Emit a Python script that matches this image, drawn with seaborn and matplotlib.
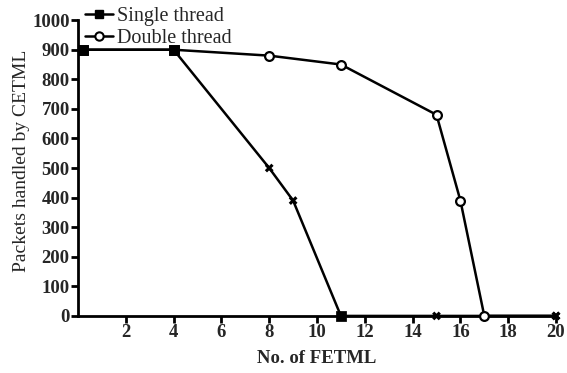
import matplotlib
matplotlib.use("Agg")
import matplotlib.pyplot as plt
from matplotlib.lines import Line2D
import seaborn as sns
import pandas as pd
import numpy as np

sns.set_theme(style="ticks")
plt.rcParams['font.family'] = ['Liberation Serif', 'DejaVu Serif']
plt.rcParams['font.weight'] = 'bold'

single_x = [0.2, 4, 8, 9, 11, 15, 20]
single_y = [900, 900, 500, 390, 0, 0, 0]
single_mk = ['s', 's', 'x', 'x', 's', 'x', 'x']

double_x = [0.2, 4, 8, 11, 15, 16, 17, 20]
double_y = [900, 900, 880, 850, 680, 390, 0, 0]
double_mk = ['s', 's', 'o', 'o', 'o', 'o', 'o', 'x']

x_ticks = [2, 4, 6, 8, 10, 12, 14, 16, 18, 20]
y_ticks = list(range(0, 1001, 100))

fig = plt.figure(figsize=(5.67, 3.73), dpi=100)
ax = fig.add_axes([0.1376, 0.153, 0.843, 0.793])

sd = pd.DataFrame({"x": single_x, "y": single_y, "m": single_mk})
dd = pd.DataFrame({"x": double_x, "y": double_y, "m": double_mk})

sns.lineplot(data=dd, x="x", y="y", color="black", lw=1.8, ax=ax, clip_on=False, zorder=3)
sns.lineplot(data=sd, x="x", y="y", color="black", lw=1.8, ax=ax, clip_on=False, zorder=3)

for df in (sd, dd):
    sq = df[df.m == 's']
    ci = df[df.m == 'o']
    xx = df[df.m == 'x']
    if len(sq):
        sns.scatterplot(data=sq, x="x", y="y", marker='s', s=45, color='black',
                        edgecolor='black', ax=ax, clip_on=False, zorder=5)
    if len(ci):
        sns.scatterplot(data=ci, x="x", y="y", marker='o', s=40, color='white',
                        edgecolor='black', linewidth=1.6, ax=ax, clip_on=False, zorder=5)
    if len(xx):
        sns.scatterplot(data=xx, x="x", y="y", marker='X', s=40, color='black',
                        edgecolor='none', linewidth=0, ax=ax, clip_on=False, zorder=5)

ax.set_xlim(0, 20)
ax.set_ylim(0, 1000)
ax.set_xticks(x_ticks)
ax.set_yticks(y_ticks)
ax.set_xticklabels([str(t) for t in x_ticks], fontsize=13.5, fontweight='bold')
ax.set_yticklabels([str(t) for t in y_ticks], fontsize=13.5, fontweight='bold')
ax.tick_params(axis='both', direction='out', length=5, width=2, color='black', pad=1)
for s in ['top', 'right']:
    ax.spines[s].set_visible(False)
for s in ['left', 'bottom']:
    ax.spines[s].set_linewidth(2)
    ax.spines[s].set_color('black')

ax.set_xlabel("No. of FETML", fontsize=13.5, fontweight='bold', labelpad=6)
ax.set_ylabel("Packets handled by CETML", fontsize=14, fontweight='medium', labelpad=1)
ax.yaxis.set_label_coords(-0.10, 0.525)

handles = [
    Line2D([], [], color='black', lw=1.8, marker='s', markersize=6, markerfacecolor='black'),
    Line2D([], [], color='black', lw=1.8, marker='o', markersize=6, markerfacecolor='white', markeredgewidth=1.5),
]
leg = ax.legend(handles, ["Single thread", "Double thread"], loc='upper left',
                bbox_to_anchor=(-0.003, 1.073), frameon=False, fontsize=14.5,
                handlelength=1.4, handletextpad=0.2, labelspacing=0.15, borderaxespad=0)
for t in leg.get_texts():
    t.set_fontweight('normal')

fig.savefig("out.png", dpi=100)
